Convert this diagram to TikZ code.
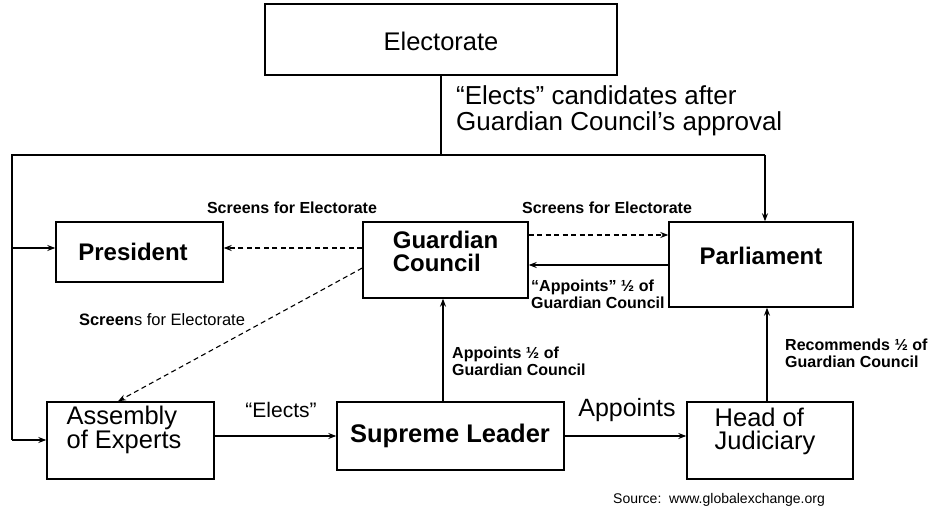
\documentclass[tikz,border=0pt]{standalone}
\usepackage{fontspec}
\setmainfont{Liberation Sans}
\usetikzlibrary{arrows.meta}
\begin{document}
\begin{tikzpicture}[x=1pt,y=-1pt,
  box/.style={draw, line width=1.4pt, inner sep=0pt},
  btext/.style={font=\bfseries\fontsize{24}{23}\selectfont, align=left, inner sep=0pt},
  rtext/.style={font=\fontsize{25.5}{23}\selectfont, align=left, inner sep=0pt},
  conn/.style={line width=1.1pt},
  arr/.style={line width=1.1pt, -{Stealth[length=8pt,width=6pt]}},
  darr/.style={arr, dashed, dash pattern=on 5pt off 3.5pt},
  lbl/.style={font=\bfseries\fontsize{16}{17}\selectfont, align=left, inner sep=0pt},
  big/.style={font=\fontsize{20}{22}\selectfont, inner sep=0pt}]
\useasboundingbox (0,0) rectangle (932,510);
\fill[white] (0,0) rectangle (932,510);
% boxes
\node[box, minimum width=352pt, minimum height=71pt] (el) at (441,39.5) {};
\node[box, minimum width=167pt, minimum height=60pt] (pr) at (139.5,252) {};
\node[box, minimum width=165pt, minimum height=76pt] (gc) at (445.5,260) {};
\node[box, minimum width=184pt, minimum height=85pt] (pa) at (761,264.5) {};
\node[box, minimum width=167pt, minimum height=77pt] (as) at (130.5,440.5) {};
\node[box, minimum width=227pt, minimum height=68pt] (sl) at (450.5,436) {};
\node[box, minimum width=166pt, minimum height=77pt] (hj) at (770,440.5) {};
% box texts
\node[rtext] (elT) at (441,41) {Electorate};
\node[btext] (prT) at (133,252) {President};
\node[btext] (gcT) at (445.5,251.5) {Guardian\\Council};
\node[btext] (paT) at (761,256) {Parliament};
\node[rtext] (asT) at (124,430) {Assembly\\of Experts};
\node[btext, font=\bfseries\fontsize{25.5}{26}\selectfont] (slT) at (450,436) {Supreme Leader};
\node[rtext] (hjT) at (765,431) {Head of\\Judiciary};
% junctions
\coordinate (jL) at (12,155);
\coordinate (jR) at (765,155);
\coordinate (jB) at (12,440);
% connectors
\draw[conn] (el.south) -- (el.south |- jL);
\draw[conn] (jB) -- (jL) -- (jR);
\draw[arr] (jR) -- (jR |- pa.north);
\draw[arr] (jL |- 0,248) -- (pr.west |- 0,248);
\draw[arr] (jB) -- (as.west |- jB);
\draw[darr] (gc.west |- 0,248) -- (pr.east |- 0,248);
\draw[darr] (gc.east |- 0,235) -- (pa.west |- 0,235);
\draw[arr] (pa.west |- 0,265) -- (gc.east |- 0,265);
\draw[darr] (gc.west |- 0,268) -- (as.north -| 118,0);
\draw[arr] (sl.north -| 443,0) -- (gc.south -| 443,0);
\draw[arr] (hj.north -| 767,0) -- (pa.south -| 767,0);
\draw[arr] (as.east |- 0,436) -- (sl.west |- 0,436);
\draw[arr] (sl.east |- 0,436) -- (hj.west |- 0,436);
% labels
\node[big, font=\fontsize{26}{25.5}\selectfont, anchor=west, align=left] (lElects) at (456,111) {“Elects” candidates after\\Guardian Council’s approval};
\node[lbl] (lS1) at (292,208) {Screens for Electorate};
\node[lbl] (lS2) at (607,208) {Screens for Electorate};
\node[lbl, anchor=west] (lApp1) at (531,294) {“Appoints” ½ of\\Guardian Council};
\node[lbl, anchor=west] (lApp2) at (452,361) {Appoints ½ of\\Guardian Council};
\node[lbl, anchor=west] (lRec) at (785,353) {Recommends ½ of\\Guardian Council};
\node[lbl, font=\fontsize{16.5}{17}\selectfont] (lS3) at (162,320) {\textbf{Screen}s for Electorate};
\node[big, font=\fontsize{21}{22}\selectfont] (lE) at (281,410) {“Elects”};
\node[big, font=\fontsize{25}{22}\selectfont] (lA) at (627,410) {Appoints};
\node[font=\fontsize{14}{15}\selectfont, inner sep=0pt] (src) at (719,500) {Source:\ \ www.globalexchange.org};
\end{tikzpicture}
\end{document}
